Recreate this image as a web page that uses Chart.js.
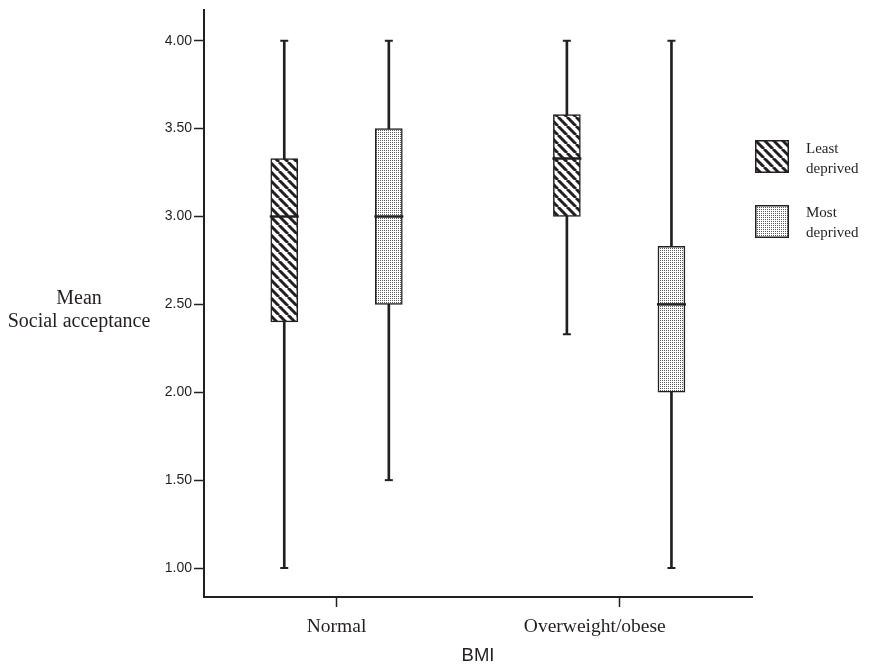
<!DOCTYPE html>
<html>
<head>
<meta charset="utf-8">
<script src="https://cdn.jsdelivr.net/npm/chart.js@4.4.1/dist/chart.umd.min.js"></script>
<style>
  body { margin: 0; background: #fff; }
  #wrap { position: relative; width: 870px; height: 667px; }
  #chart { position: absolute; left: 0; top: 0; }
  .ytitle { position: absolute; left: 0; top: 286px; width: 158px; text-align: center;
            font: 20px "Liberation Serif", "Times New Roman", serif; line-height: 23px; color: #231f20; }
  .leg { position: absolute; left: 755px; }
  .leg canvas { position: absolute; left: 0; }
  .leg span { position: absolute; left: 51px; font: 15px "Liberation Serif", serif; line-height: 20px;
              color: #231f20; white-space: nowrap; }
</style>
</head>
<body>
<div id="wrap">
  <canvas id="chart" width="870" height="667"></canvas>
  <div class="ytitle">Mean<br>Social acceptance</div>
  <div class="leg" style="top:140px"><canvas id="sw1" width="34" height="33"></canvas><span style="top:-2px">Least<br>deprived</span></div>
  <div class="leg" style="top:205px"><canvas id="sw2" width="34" height="33"></canvas><span style="top:-3px">Most<br>deprived</span></div>
</div>
<script>
// 資料
var groups = ['Normal', 'Overweight/obese'];
var leastMin = [1.00, 2.33];
var leastQ1 = [2.40, 3.00];
var leastMed = [3.00, 3.33];
var leastQ3 = [3.33, 3.58];
var leastMax = [4.00, 4.00];
var mostMin = [1.50, 1.00];
var mostQ1 = [2.50, 2.00];
var mostMed = [3.00, 2.50];
var mostQ3 = [3.50, 2.83];
var mostMax = [4.00, 4.00];
var yTicks = [1.00, 1.50, 2.00, 2.50, 3.00, 3.50, 4.00];

var ink = '#231f20';
var boxOffset = 0.185;  // 每組箱子離類別中心的距離(x軸單位)
var labelPad = ['', '          '];  // 第二個標籤在原圖中偏左，用尾端空白推過去

// 斜線紋路
function stripePattern(ctx) {
  var t = document.createElement('canvas');
  t.width = 9; t.height = 9;
  var c = t.getContext('2d');
  c.fillStyle = '#fff';
  c.fillRect(0, 0, 9, 9);
  c.strokeStyle = ink;
  c.lineWidth = 3;
  for (var x0 = -9; x0 <= 9; x0 += 9) {
    c.beginPath();
    c.moveTo(x0, 0);
    c.lineTo(x0 + 9, 9);
    c.stroke();
  }
  return ctx.createPattern(t, 'repeat');
}
// 點點紋路
function dotPattern(ctx) {
  var t = document.createElement('canvas');
  t.width = 2; t.height = 2;
  var c = t.getContext('2d');
  c.fillStyle = '#fff';
  c.fillRect(0, 0, 2, 2);
  c.fillStyle = '#5a5a5a';
  c.fillRect(0, 0, 1, 1);
  return ctx.createPattern(t, 'repeat');
}

var cv = document.getElementById('chart');
var c = cv.getContext('2d');
var stripes = stripePattern(c);
var dots = dotPattern(c);

// 圖例小方塊
function swatch(id, maker) {
  var s = document.getElementById(id).getContext('2d');
  s.fillStyle = maker(s);
  s.fillRect(0, 0, 34, 33);
  s.strokeStyle = ink;
  s.lineWidth = 1.5;
  s.strokeRect(0.75, 0.75, 32.5, 31.5);
}
swatch('sw1', stripePattern);
swatch('sw2', dotPattern);

function pts(off, arr) {
  return arr.map(function (v, i) { return {x: i + off, y: v}; });
}
function rng(off, lo, hi) {
  return lo.map(function (v, i) { return {x: i + off, y: [v, hi[i]]}; });
}

var datasets = [
  // 鬚線
  {type: 'bar', data: rng(-boxOffset, leastMin, leastMax), backgroundColor: ink, barThickness: 2, grouped: false, order: 3},
  {type: 'bar', data: rng(boxOffset, mostMin, mostMax), backgroundColor: ink, barThickness: 2, grouped: false, order: 3},
  // 箱子
  {type: 'bar', label: 'Least deprived', data: rng(-boxOffset, leastQ1, leastQ3), backgroundColor: stripes,
   borderColor: ink, borderWidth: 1.5, borderSkipped: false, barThickness: 27, grouped: false, order: 2},
  {type: 'bar', label: 'Most deprived', data: rng(boxOffset, mostQ1, mostQ3), backgroundColor: dots,
   borderColor: ink, borderWidth: 1.5, borderSkipped: false, barThickness: 27, grouped: false, order: 2},
  // 中位數
  {type: 'scatter', data: pts(-boxOffset, leastMed), pointStyle: 'line', pointRadius: 14.5, pointBorderWidth: 2.5, borderColor: ink, order: 1},
  {type: 'scatter', data: pts(boxOffset, mostMed), pointStyle: 'line', pointRadius: 14.5, pointBorderWidth: 2.5, borderColor: ink, order: 1},
  // 端點
  {type: 'scatter', data: pts(-boxOffset, leastMin).concat(pts(-boxOffset, leastMax)), pointStyle: 'line', pointRadius: 4, pointBorderWidth: 2, borderColor: ink, order: 1},
  {type: 'scatter', data: pts(boxOffset, mostMin).concat(pts(boxOffset, mostMax)), pointStyle: 'line', pointRadius: 4, pointBorderWidth: 2, borderColor: ink, order: 1}
];

var myChart = new Chart(cv, {
  type: 'bar',
  data: {datasets: datasets},
  options: {
    responsive: false,
    animation: false,
    events: [],
    layout: {autoPadding: false, padding: {top: 10, right: 118, bottom: 0, left: 0}},
    plugins: {legend: {display: false}, tooltip: {enabled: false}},
    scales: {
      x: {
        type: 'linear',
        offset: false,
        min: -0.469,
        max: 1.47,
        afterBuildTicks: function (s) { s.ticks = groups.map(function (g, i) { return {value: i}; }); },
        afterFit: function (s) { s.height = 70; s.paddingLeft = 0; s.paddingRight = 0; },
        grid: {offset: false, drawOnChartArea: false, drawTicks: true, tickLength: 10, tickWidth: 1.5, tickColor: ink},
        border: {display: true, color: ink, width: 2},
        ticks: {
          padding: 8,
          color: ink,
          font: {family: '"Liberation Serif", serif', size: 19.5},
          callback: function (v) { return groups[v] + labelPad[v]; }
        },
        title: {display: true, text: 'BMI', color: ink, padding: 0,
                font: {family: '"Liberation Sans", Arial, sans-serif', size: 18.5}}
      },
      y: {
        min: 0.835,
        max: 4.175,
        afterBuildTicks: function (s) { s.ticks = yTicks.map(function (v) { return {value: v}; }); },
        afterFit: function (s) { s.width = 204; s.paddingTop = 0; s.paddingBottom = 0; },
        grid: {drawOnChartArea: false, drawTicks: true, tickLength: 10, tickWidth: 1.5, tickColor: ink},
        border: {display: true, color: ink, width: 2},
        ticks: {
          padding: 2,
          color: ink,
          font: {family: '"Liberation Sans", Arial, sans-serif', size: 14},
          callback: function (v) { return Number(v).toFixed(2); }
        }
      }
    }
  }
});
</script>
</body>
</html>
